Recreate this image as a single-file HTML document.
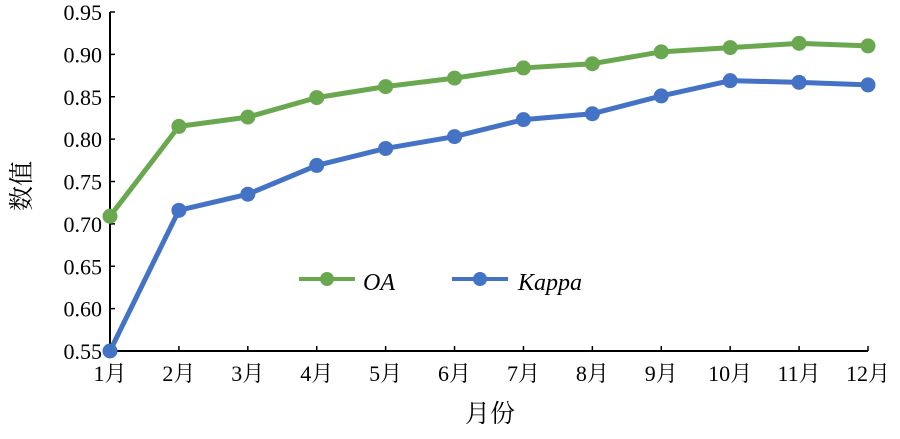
<!DOCTYPE html>
<html><head><meta charset="utf-8"><style>
body{margin:0;background:#fff;}
svg text{font-family:"Liberation Serif","Noto Serif CJK SC","Noto Sans CJK SC",serif;fill:#000;}
</style></head><body>
<svg id="chart" width="900" height="434" xmlns="http://www.w3.org/2000/svg">
<g id="axes"></g>
<g id="series"></g>
<g>
 <line x1="299" y1="279" x2="355" y2="279" stroke="#6aa84f" stroke-width="4"/>
 <circle cx="327" cy="279" r="7" fill="#6aa84f"/>
 <text x="363" y="290" font-size="24" font-style="italic">OA</text>
 <line x1="452" y1="279" x2="508" y2="279" stroke="#4472c4" stroke-width="4"/>
 <circle cx="480" cy="279" r="7" fill="#4472c4"/>
 <text x="518" y="290" font-size="24" font-style="italic">Kappa</text>
</g>
<text transform="translate(30,186) rotate(-90)" text-anchor="middle" font-size="25">数值</text>
<text x="490" y="422" text-anchor="middle" font-size="25">月份</text>
</svg>
<script>
const categories=["1月","2月","3月","4月","5月","6月","7月","8月","9月","10月","11月","12月"];
const oaValues=[0.709,0.815,0.826,0.849,0.862,0.872,0.884,0.889,0.903,0.908,0.913,0.910];
const kappaValues=[0.550,0.716,0.735,0.769,0.789,0.803,0.823,0.830,0.851,0.869,0.867,0.864];
const yTicks=[0.55,0.60,0.65,0.70,0.75,0.80,0.85,0.90,0.95];
const yTickLabels=["0.55","0.60","0.65","0.70","0.75","0.80","0.85","0.90","0.95"];

const NS="http://www.w3.org/2000/svg";
const L=110,R=868,T=12,B=351,yMin=0.55,yMax=0.95;
const xs=i=>L+(R-L)*i/(categories.length-1);
const ys=v=>B-(v-yMin)/(yMax-yMin)*(B-T);
function mk(tag,attrs,parent){const e=document.createElementNS(NS,tag);for(const k in attrs)e.setAttribute(k,attrs[k]);parent.appendChild(e);return e;}
const axes=document.getElementById('axes'),series=document.getElementById('series');
let e=mk('line',{x1:L,y1:T,x2:L,y2:B,stroke:'#000','stroke-width':2},axes);


e=mk('line',{x1:L,y1:B,x2:R,y2:B,stroke:'#000','stroke-width':2},axes);


yTicks.forEach((v,i)=>{
 const t=mk('line',{x1:L,y1:ys(v),x2:L+5,y2:ys(v),stroke:'#000','stroke-width':1.5},axes);
 
 
 const tx=mk('text',{x:L-8,y:ys(v)+8,'text-anchor':'end','font-size':22},axes);
 tx.textContent=yTickLabels[i];
 
 
});
categories.forEach((c,i)=>{
 const t=mk('line',{x1:xs(i),y1:B,x2:xs(i),y2:B-5,stroke:'#000','stroke-width':1.5},axes);
 
 
 const tx=mk('text',{x:xs(i),y:B+30,'text-anchor':'middle','font-size':22},axes);
 tx.textContent=c;
 
 
});
function drawSeries(vals,color,name){
 const pts=vals.map((v,i)=>xs(i)+','+ys(v)).join(' ');
 const pl=mk('polyline',{points:pts,fill:'none',stroke:color,'stroke-width':5,'stroke-linejoin':'round'},series);
 
 
 vals.forEach((v,i)=>{
  const c=mk('circle',{cx:xs(i),cy:ys(v),r:7.5,fill:color},series);
  
  
 });
}
drawSeries(oaValues,'#6aa84f','oa');
drawSeries(kappaValues,'#4472c4','kappa');
</script>
</body></html>
